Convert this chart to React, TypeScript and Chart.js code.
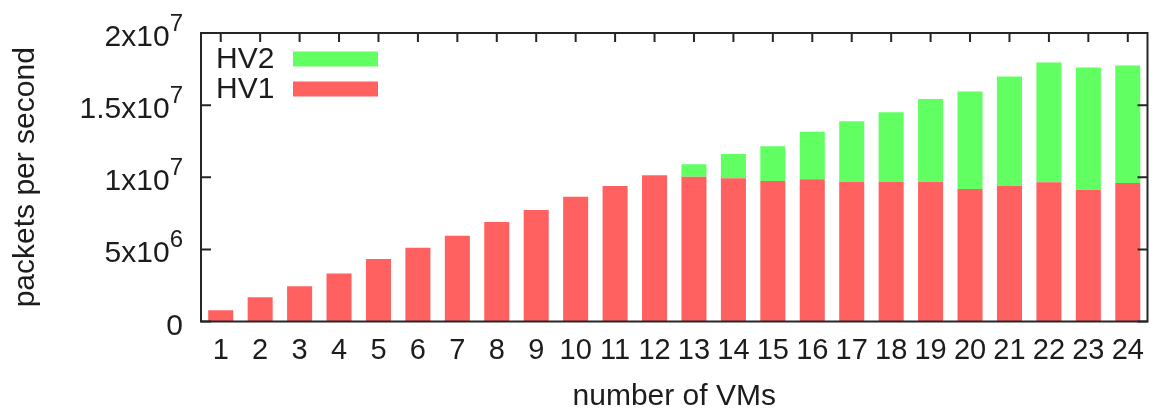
import React, { useEffect, useRef } from 'react';
import { Chart, registerables } from 'chart.js';

Chart.register(...registerables);

const categories = ['1','2','3','4','5','6','7','8','9','10','11','12','13','14','15','16','17','18','19','20','21','22','23','24'];
const hv1 = [0.78e6, 1.68e6, 2.44e6, 3.32e6, 4.33e6, 5.12e6, 5.95e6, 6.9e6, 7.73e6, 8.65e6, 9.4e6, 10.14e6,
  10.04e6, 9.93e6, 9.74e6, 9.86e6, 9.67e6, 9.67e6, 9.67e6, 9.19e6, 9.4e6, 9.65e6, 9.12e6, 9.6e6];
const hv2 = [null, null, null, null, null, null, null, null, null, null, null, null,
  0.86e6, 1.69e6, 2.41e6, 3.3e6, 4.21e6, 4.83e6, 5.76e6, 6.75e6, 7.58e6, 8.3e6, 8.48e6, 8.14e6];
const seriesNames = ['HV1', 'HV2'];
const seriesColors = ['#ff6161', '#61ff61'];
const yTickValues = [0, 5e6, 1e7, 1.5e7, 2e7];
const yTickBase = ['0', '5x10', '1x10', '1.5x10', '2x10'];
const yTickExp = ['', '6', '7', '7', '7'];
const xTitle = 'number of VMs';
const yTitle = 'packets per second';

const FONT = "'Liberation Sans', Arial, Helvetica, sans-serif";
const TEXT = '#1c1c1c';

const framePlugin = {
  id: 'gnuFrame',
  afterDatasetsDraw(chart: any) {
    const { ctx, chartArea: a, scales } = chart;
    const ys = scales.y;
    const xs = scales.x;
    ctx.save();
    ctx.strokeStyle = '#262626';
    ctx.lineWidth = 2;
    ctx.strokeRect(a.left, a.top, a.right - a.left, a.bottom - a.top);
    ctx.beginPath();
    yTickValues.forEach((v) => {
      const py = ys.getPixelForValue(v);
      ctx.moveTo(a.left, py); ctx.lineTo(a.left + 10, py);
      ctx.moveTo(a.right, py); ctx.lineTo(a.right - 10, py);
    });
    categories.forEach((_c, i) => {
      const px = xs.getPixelForValue(i);
      ctx.moveTo(px, a.top); ctx.lineTo(px, a.top + 9);
    });
    ctx.stroke();

    // y tick labels with superscript exponents
    ctx.fillStyle = TEXT;
    ctx.textBaseline = 'alphabetic';
    ctx.textAlign = 'right';
    const rightX = 183;
    yTickValues.forEach((v, i) => {
      const py = ys.getPixelForValue(v);
      const base = py + 13;
      let x = rightX;
      if (yTickExp[i]) {
        ctx.font = `24px ${FONT}`;
        const w = ctx.measureText(yTickExp[i]).width;
        ctx.fillText(yTickExp[i], x, base - 15);
        x -= w;
      }
      ctx.font = `30px ${FONT}`;
      ctx.fillText(yTickBase[i], x, base);
    });

    // legend inside the plot (HV2 on top, HV1 below)
    const ds = chart.data.datasets;
    const rows = [ds[1], ds[0]];
    ctx.font = `30px ${FONT}`;
    ctx.textAlign = 'left';
    ctx.textBaseline = 'middle';
    rows.forEach((d: any, r: number) => {
      const cy = 59 + r * 30;
      ctx.fillStyle = TEXT;
      ctx.fillText(d.label, 216, cy + 1);
      ctx.fillStyle = d.backgroundColor;
      ctx.fillRect(293, cy - 7.5, 85, 15);
    });
    ctx.restore();
  },
};

export default function App() {
  const ref = useRef<HTMLCanvasElement | null>(null);
  useEffect(() => {
    if (!ref.current) return;
    const chart = new Chart(ref.current, {
      type: 'bar',
      data: {
        labels: categories,
        datasets: [
          { label: seriesNames[0], data: hv1, backgroundColor: seriesColors[0], borderWidth: 0, stack: 's' },
          { label: seriesNames[1], data: hv2 as any, backgroundColor: seriesColors[1], borderWidth: 0, stack: 's' },
        ],
      },
      options: {
        responsive: false,
        animation: false,
        devicePixelRatio: 1,
        layout: { padding: { left: 0, top: 33, right: 4, bottom: 0 } },
        plugins: { legend: { display: false }, tooltip: { enabled: false } },
        datasets: { bar: { categoryPercentage: 1, barPercentage: 0.635 } },
        scales: {
          x: {
            stacked: true,
            grid: { display: false, drawTicks: false },
            border: { display: false },
            ticks: { autoSkip: false, maxRotation: 0, minRotation: 0, padding: 12, color: TEXT, font: { family: FONT, size: 29 } },
            title: { display: true, text: xTitle, color: TEXT, font: { family: FONT, size: 30 }, padding: { top: 0, bottom: -3 } },
            afterFit: (s: any) => { s.height = 90.5; },
          },
          y: {
            stacked: true,
            min: 0,
            max: 2e7,
            grid: { display: false, drawTicks: false },
            border: { display: false },
            ticks: { stepSize: 5e6, display: false },
            title: { display: true, text: yTitle, color: TEXT, font: { family: FONT, size: 30 }, padding: { top: 8, bottom: 0 } },
            afterFit: (s: any) => { s.width = 201; },
          },
        },
      },
      plugins: [framePlugin],
    });
    return () => chart.destroy();
  }, []);
  return (
    <div style={{ position: 'absolute', left: 0, top: 0, width: 1156, height: 412, background: '#fff' }}>
      <canvas ref={ref} width={1156} height={412} style={{ display: 'block' }} />
    </div>
  );
}
